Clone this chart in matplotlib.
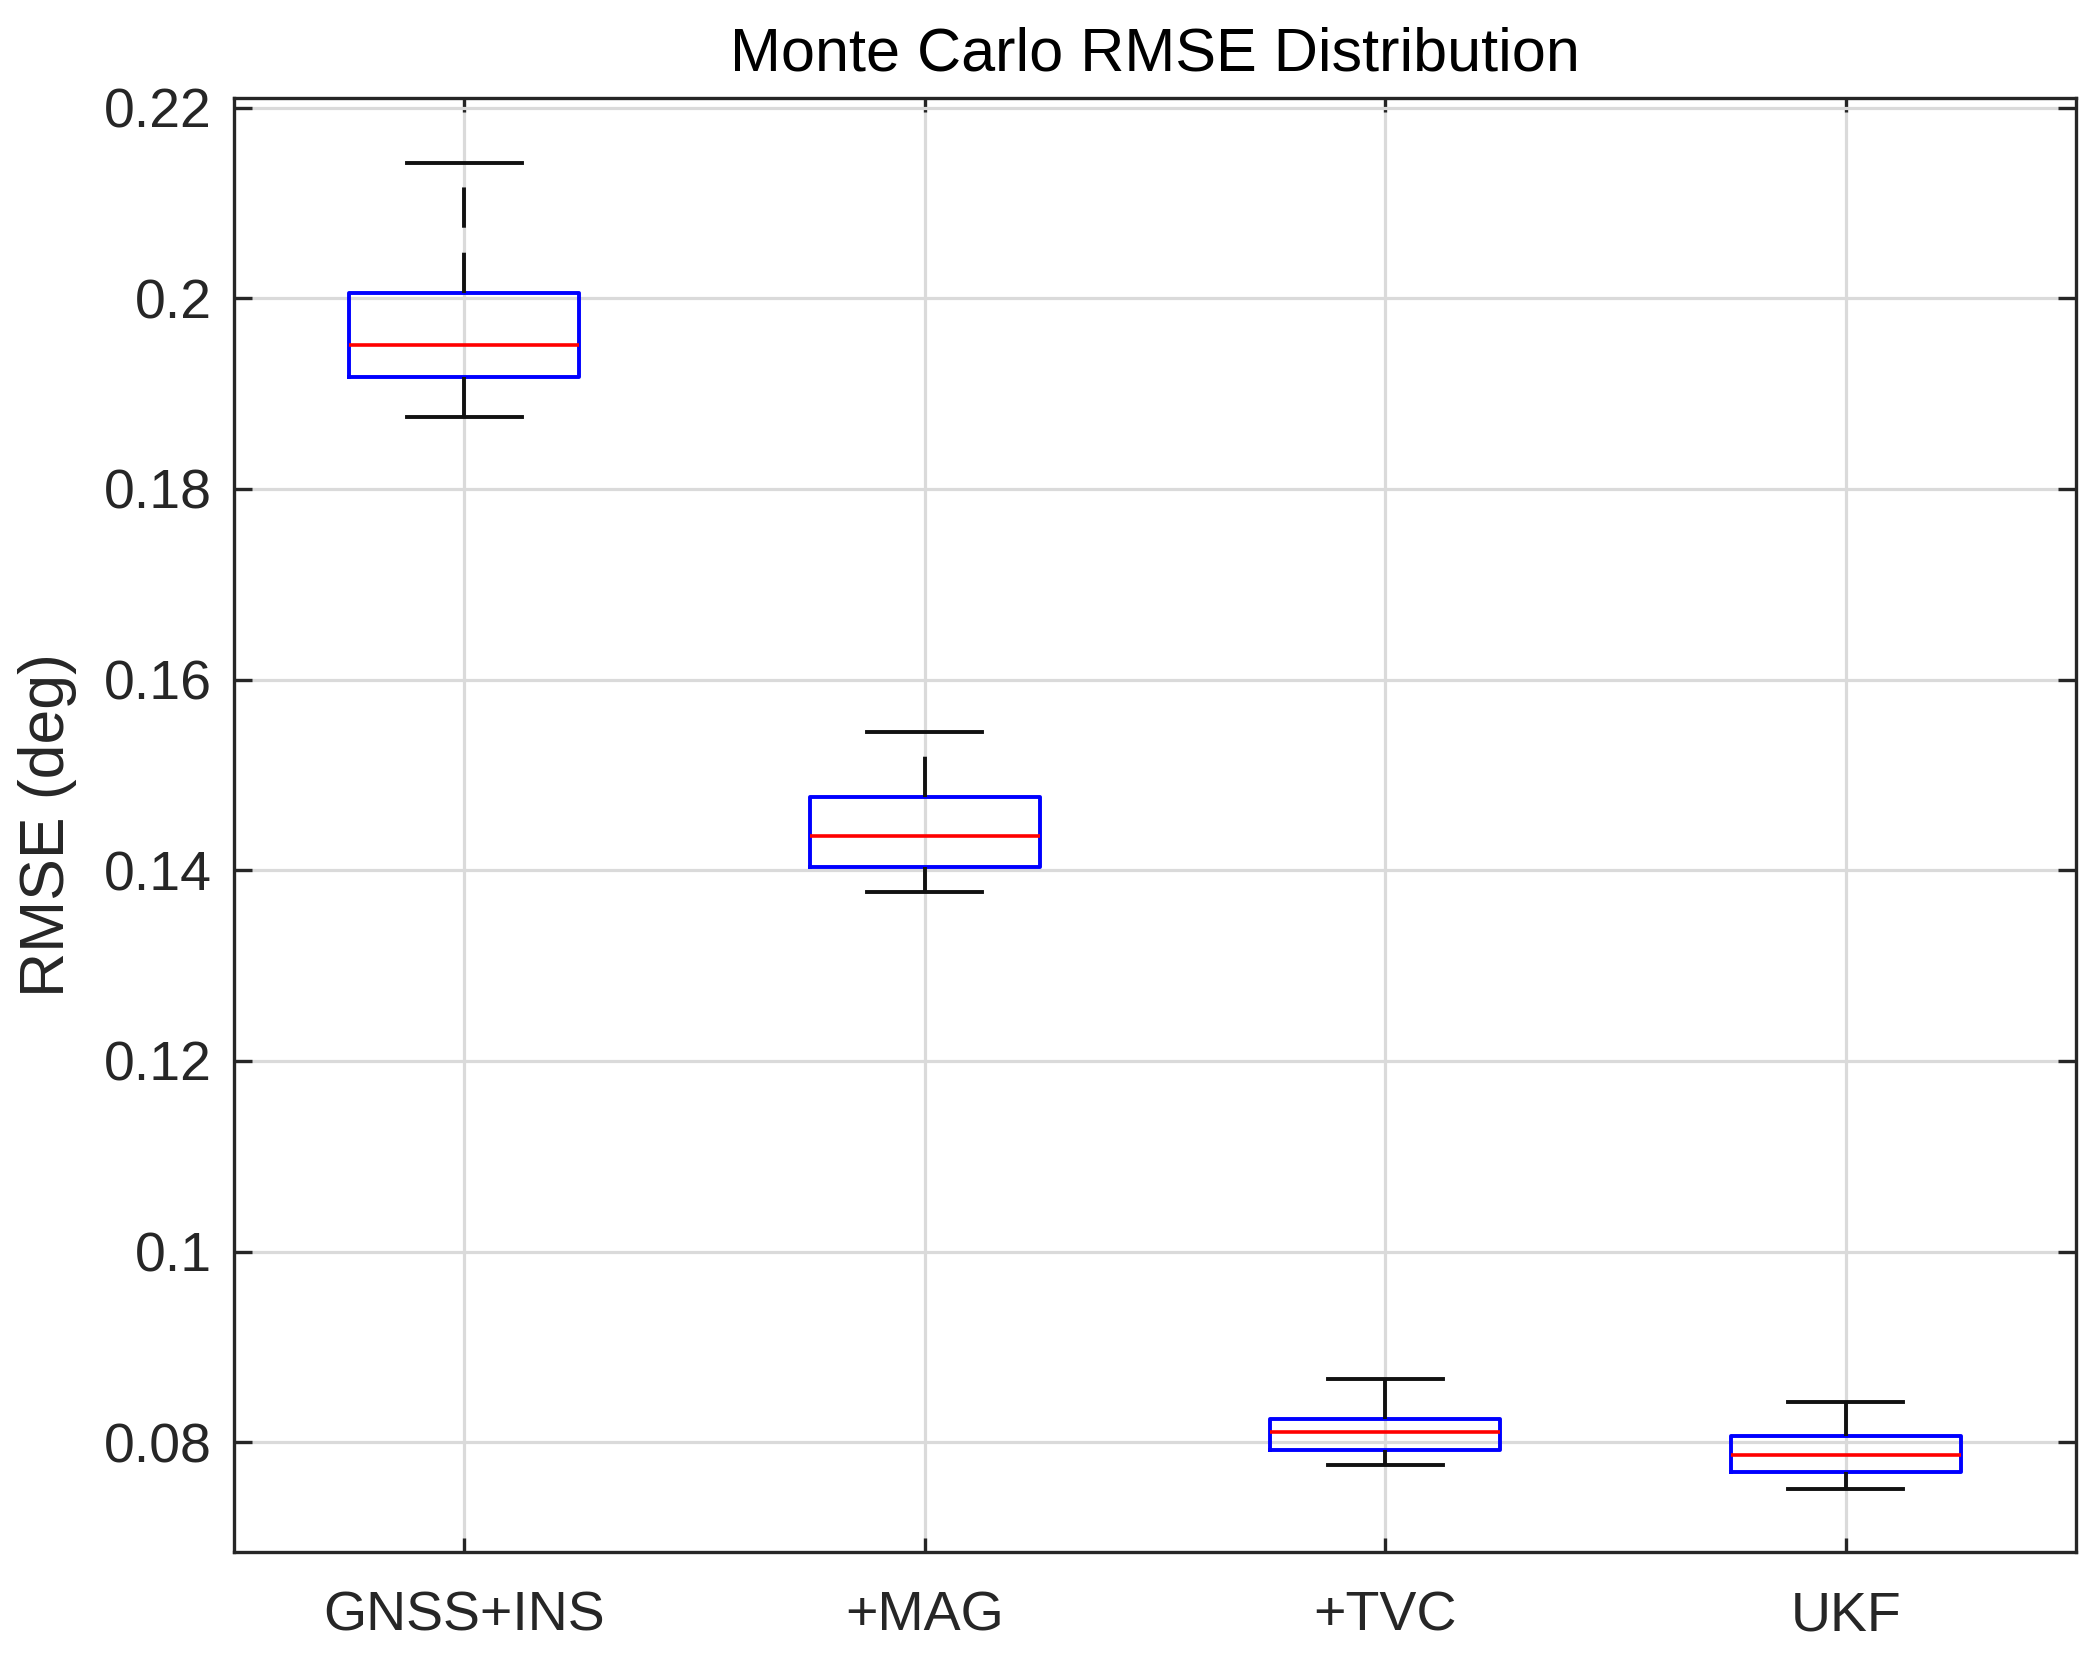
import matplotlib
matplotlib.use('Agg')
import matplotlib.pyplot as plt
from matplotlib.ticker import FuncFormatter

# Box statistics (deg)
labels = ['GNSS+INS', '+MAG', '+TVC', 'UKF']
whislo = [0.1875, 0.1377, 0.0776, 0.0751]
q1 = [0.1917, 0.1403, 0.0792, 0.0769]
med = [0.1951, 0.1436, 0.0811, 0.0787]
q3 = [0.2006, 0.1477, 0.0824, 0.0807]
whishi = [0.2142, 0.1545, 0.0866, 0.0842]
yticks = [0.08, 0.10, 0.12, 0.14, 0.16, 0.18, 0.20, 0.22]

plt.rcParams['font.family'] = ['Liberation Sans', 'DejaVu Sans']
plt.rcParams['lines.scale_dashes'] = False

W, H = 2099, 1659
fig = plt.figure(figsize=(W / 100, H / 100), dpi=100)
ax = fig.add_axes([234 / W, 1 - 1552 / H, (2076 - 234) / W, (1552 - 98) / H])

stats = []
for i in range(len(labels)):
    stats.append(dict(label=labels[i], whislo=whislo[i], q1=q1[i], med=med[i],
                      q3=q3[i], whishi=whishi[i], fliers=[]))

ax.bxp(stats, widths=0.5, capwidths=0.25, showfliers=False,
       boxprops=dict(color='#0000ff', linewidth=2.8),
       medianprops=dict(color='#ff0000', linewidth=2.6),
       whiskerprops=dict(color='#111111', linewidth=2.8, linestyle=(0, (29, 18))),
       capprops=dict(color='#111111', linewidth=2.8))

ax.set_xlim(0.5, 4.5)
ax.set_ylim(0.0685, 0.2210)
ax.set_yticks(yticks)
ax.yaxis.set_major_formatter(FuncFormatter(lambda v, p: '{:g}'.format(round(v, 4))))

ax.grid(True, color='#dadada', linewidth=2.3)
ax.set_axisbelow(True)

for s in ax.spines.values():
    s.set_linewidth(2.4)
    s.set_color('#262626')

ax.tick_params(axis='both', direction='in', top=True, right=True, width=2.4,
               color='#262626', labelcolor='#262626', labelsize=40)
ax.tick_params(axis='y', length=13, pad=16)
ax.tick_params(axis='x', length=10, pad=28)

ax.set_title('Monte Carlo RMSE Distribution', fontsize=44, pad=20, color='black')
ax.set_ylabel('RMSE (deg)', fontsize=45, color='#262626')
ax.yaxis.set_label_coords(-0.0855, 0.5)

fig.savefig('out.png', dpi=100)
